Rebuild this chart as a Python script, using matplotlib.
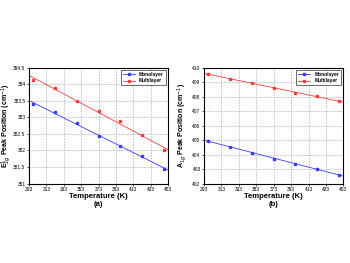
import numpy as np
import matplotlib
matplotlib.use("Agg")
import matplotlib.pyplot as plt

plt.rcParams['font.family'] = ['Liberation Sans', 'DejaVu Sans']

temps = [298, 323, 348, 373, 398, 423, 448]
e2g_mono = [383.39, 383.15, 382.82, 382.44, 382.13, 381.83, 381.45]
e2g_multi = [384.12, 383.88, 383.49, 383.18, 382.89, 382.46, 382.0]
a1g_mono = [404.95, 404.51, 404.14, 403.72, 403.38, 403.0, 402.59]
a1g_multi = [409.53, 409.24, 408.96, 408.56, 408.28, 408.02, 407.68]
xticks = [293, 313, 333, 353, 373, 393, 413, 433, 453]

blue = '#3b3bff'
red = '#ff3b3b'

fig = plt.figure(figsize=(3.5, 2.63), dpi=100)
ax1 = fig.add_axes([0.083, 0.302, 0.397, 0.441])
ax2 = fig.add_axes([0.583, 0.302, 0.398, 0.441])


def draw(ax, mono, multi, ylim, yticks, ylabel, tag):
    xs = np.array([293, 453])
    for vals, c, name in [(mono, blue, 'Monolayer'), (multi, red, 'Multilayer')]:
        k, b = np.polyfit(temps, vals, 1)
        ax.plot(xs, k * xs + b, color=c, lw=0.6)
        ax.plot(temps, vals, 's', color=c, ms=1.5)
        ax.plot([], [], '-s', color=c, lw=0.6, ms=1.5, label=name)
    ax.set_xlim(293, 453)
    ax.set_ylim(*ylim)
    ax.set_xticks(xticks)
    ax.set_yticks(yticks)
    ax.set_yticklabels([('%g' % v) for v in yticks])
    ax.grid(True, ls=(0, (3, 2)), color='#999999', lw=0.4)
    ax.tick_params(labelsize=3.5, length=1.5, width=0.5, pad=1)
    for s in ax.spines.values():
        s.set_linewidth(0.8)
    ax.set_xlabel('Temperature (K)\n(%s)' % tag, fontsize=5.5, fontweight='bold', labelpad=1, linespacing=1.2)
    ax.set_ylabel(ylabel, fontsize=5, fontweight='bold')
    ax.yaxis.set_label_coords(-0.105, 0.5)
    leg = ax.legend(loc='upper right', fontsize=3.5, frameon=True, fancybox=False,
                    edgecolor='black', handlelength=2.5, borderpad=0.4, labelspacing=0.3)
    leg.get_frame().set_linewidth(0.5)
    for t in leg.get_texts():
        t.set_fontweight('bold')


draw(ax1, e2g_mono, e2g_multi, (381, 384.5), [381, 381.5, 382, 382.5, 383, 383.5, 384, 384.5],
     r'E$^{1}_{2g}$ Peak Position (cm$^{-1}$)', 'a')
draw(ax2, a1g_mono, a1g_multi, (402, 410), list(range(402, 411)),
     r'A$_{1g}$ Peak Position (cm$^{-1}$)', 'b')

fig.savefig('out.png', dpi=100)
